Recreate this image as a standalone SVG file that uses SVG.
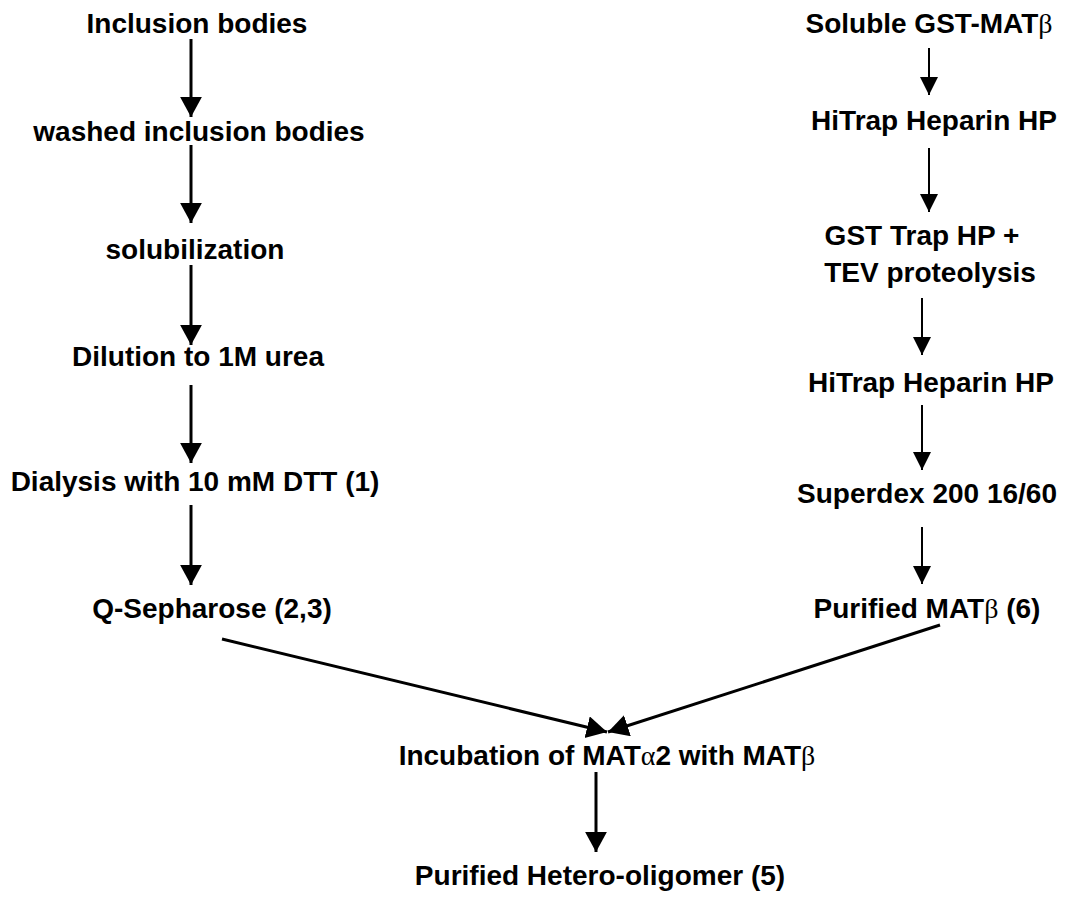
<svg xmlns="http://www.w3.org/2000/svg" width="1067" height="898" viewBox="0 0 1067 898">
<defs>
<style>
text{font-family:"Liberation Sans",Arial,sans-serif;font-weight:bold;font-size:28px;fill:#000;text-anchor:middle}
.thick{stroke:#000;stroke-width:3;fill:none}
.thin{stroke:#000;stroke-width:2;fill:none}
.sym{font-family:"Liberation Serif","Times New Roman",serif;font-weight:normal}
</style>
<marker id="ah" markerWidth="8" markerHeight="8" refX="6.8" refY="3.7" orient="auto" markerUnits="strokeWidth" viewBox="0 0 8 8"><path d="M0,0 L6.8,3.7 L0,7.4 z" fill="#000"/></marker>
<marker id="ahs" markerWidth="10" markerHeight="10" refX="9" refY="4.5" orient="auto" markerUnits="strokeWidth" viewBox="0 0 10 10"><path d="M0,0 L9,4.5 L0,9 z" fill="#000"/></marker>
</defs>
<g id="connectors">
<line class="thick" x1="191" y1="39" x2="191" y2="117" marker-end="url(#ah)"/>
<line class="thick" x1="191" y1="145" x2="191" y2="223" marker-end="url(#ah)"/>
<line class="thick" x1="191" y1="265" x2="191" y2="345" marker-end="url(#ah)"/>
<line class="thick" x1="191" y1="385" x2="191" y2="463" marker-end="url(#ah)"/>
<line class="thick" x1="191" y1="505" x2="191" y2="585" marker-end="url(#ah)"/>
<line class="thin" x1="929" y1="48" x2="929" y2="95" marker-end="url(#ahs)"/>
<line class="thin" x1="929" y1="148" x2="929" y2="212" marker-end="url(#ahs)"/>
<line class="thin" x1="922" y1="298" x2="922" y2="355" marker-end="url(#ahs)"/>
<line class="thin" x1="922" y1="405" x2="922" y2="470" marker-end="url(#ahs)"/>
<line class="thin" x1="922" y1="527" x2="922" y2="584" marker-end="url(#ahs)"/>
<line class="thick" x1="222" y1="639" x2="607" y2="732" marker-end="url(#ah)"/>
<line class="thick" x1="940" y1="625" x2="608" y2="732" marker-end="url(#ah)"/>
<line class="thick" x1="596" y1="772" x2="596" y2="852" marker-end="url(#ah)"/>
</g>
<g id="n1"><text x="197" y="33">Inclusion bodies</text></g>
<g id="n2"><text x="199" y="141">washed inclusion bodies</text></g>
<g id="n3"><text x="195" y="259">solubilization</text></g>
<g id="n4"><text x="198" y="366">Dilution to 1M urea</text></g>
<g id="n5"><text x="195" y="491">Dialysis with 10 mM DTT (1)</text></g>
<g id="n6"><text x="212" y="618">Q-Sepharose (2,3)</text></g>
<g id="r1"><text x="929" y="33">Soluble GST-MAT<tspan class="sym">β</tspan></text></g>
<g id="r2"><text x="934" y="130">HiTrap Heparin HP</text></g>
<g id="r3"><text x="922" y="245">GST Trap HP +</text><text x="930" y="282">TEV proteolysis</text></g>
<g id="r4"><text x="931" y="392">HiTrap Heparin HP</text></g>
<g id="r5"><text x="927" y="503">Superdex 200 16/60</text></g>
<g id="r6"><text x="927" y="618">Purified MAT<tspan class="sym">β</tspan> (6)</text></g>
<g id="m1"><text x="607" y="765">Incubation of MAT<tspan class="sym">α</tspan>2 with MAT<tspan class="sym">β</tspan></text></g>
<g id="m2"><text x="600" y="885">Purified Hetero-oligomer (5)</text></g>
</svg>
